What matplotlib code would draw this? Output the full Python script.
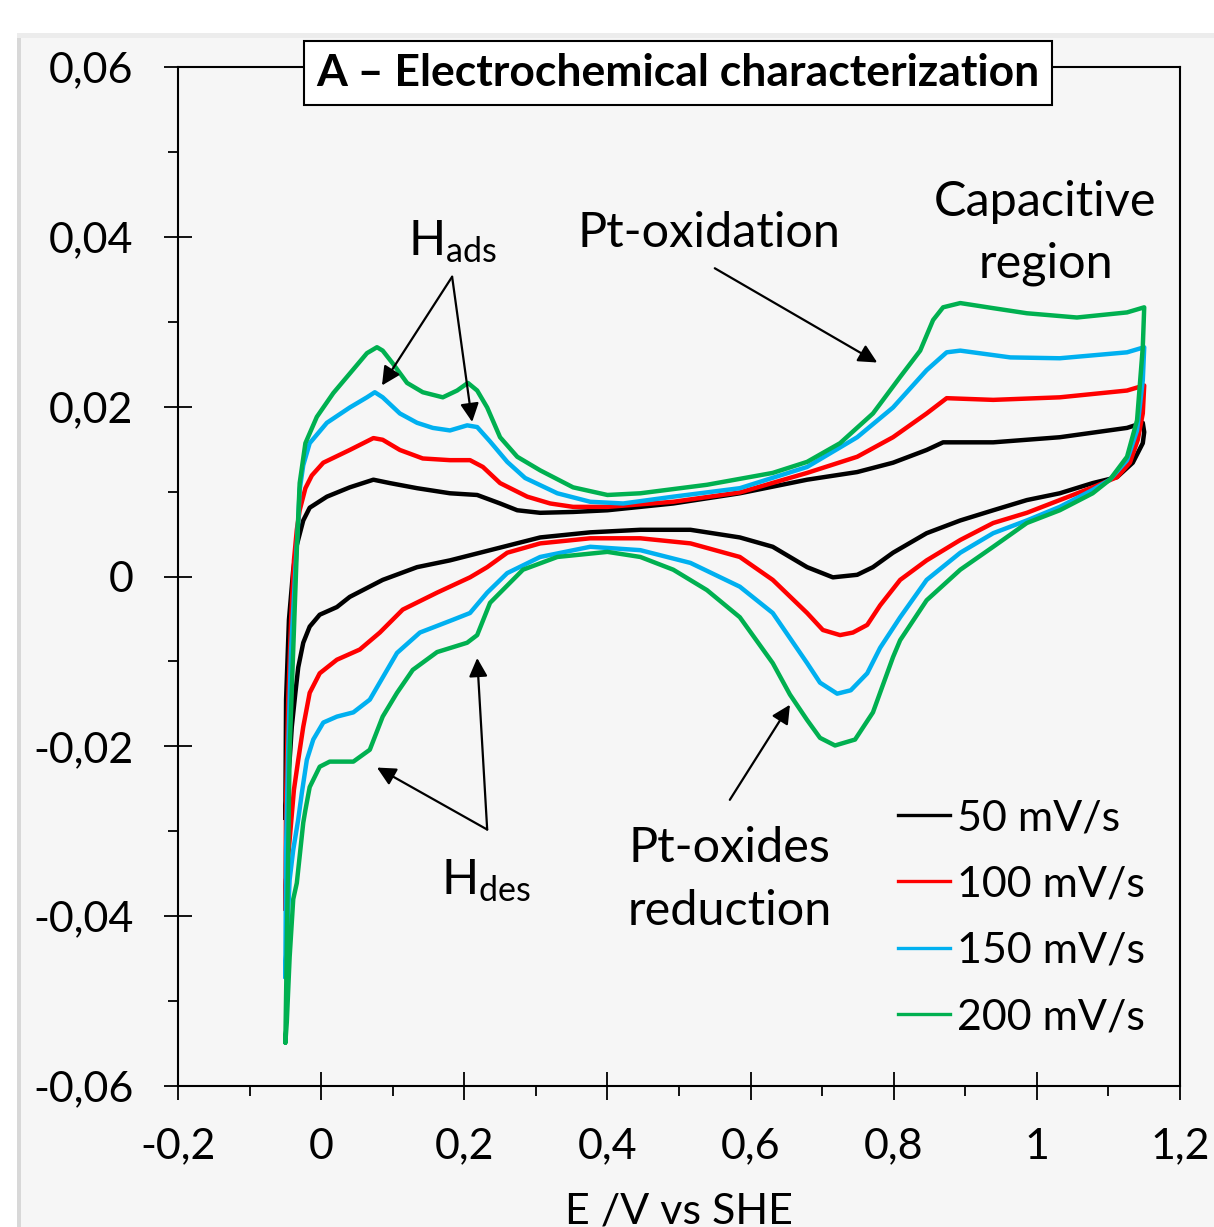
import matplotlib
matplotlib.use("Agg")
import matplotlib.pyplot as plt
from matplotlib.lines import Line2D
from matplotlib.patches import Rectangle

plt.rcParams['font.family'] = ['Lato', 'DejaVu Sans']
plt.rcParams['mathtext.fontset'] = 'custom'
plt.rcParams['mathtext.rm'] = 'Lato'
plt.rcParams['mathtext.it'] = 'Lato:italic'
plt.rcParams['mathtext.bf'] = 'Lato:bold'

# cyclic voltammograms, potential E (V vs SHE) and current I (A)
# each scan rate: forward (anodic) sweep then reverse (cathodic) sweep
e_50_fwd = [-0.050, -0.049, -0.045, -0.039, -0.034, -0.025, -0.016, 0.008, 0.040, 0.073,
            0.096, 0.134, 0.180, 0.218, 0.250, 0.274, 0.306, 0.352, 0.400, 0.492,
            0.585, 0.679, 0.749, 0.799, 0.846, 0.869, 0.939, 1.032, 1.126, 1.148]
i_50_fwd = [-0.0285, -0.0145, -0.0051, 0.0008, 0.0037, 0.0066, 0.0081, 0.0094, 0.0105, 0.0114,
            0.0110, 0.0104, 0.0098, 0.0096, 0.0086, 0.0078, 0.0075, 0.0076, 0.0078, 0.0086,
            0.0098, 0.0114, 0.0123, 0.0134, 0.0149, 0.0158, 0.0158, 0.0164, 0.0175, 0.0181]
e_50_rev = [1.150, 1.148, 1.134, 1.112, 1.078, 1.032, 0.986, 0.939, 0.893, 0.846,
            0.799, 0.771, 0.749, 0.715, 0.679, 0.631, 0.585, 0.516, 0.446, 0.376,
            0.306, 0.236, 0.180, 0.134, 0.086, 0.040, 0.022, -0.002, -0.016, -0.025,
            -0.032, -0.036, -0.041, -0.044, -0.048, -0.050]
i_50_rev = [0.0170, 0.0157, 0.0134, 0.0117, 0.0110, 0.0098, 0.0090, 0.0078, 0.0066, 0.0051,
            0.0028, 0.0011, 0.0002, -0.0001, 0.0011, 0.0035, 0.0046, 0.0055, 0.0055, 0.0052,
            0.0046, 0.0031, 0.0019, 0.0011, -0.0004, -0.0024, -0.0036, -0.0045, -0.0059, -0.0078,
            -0.0107, -0.0137, -0.0177, -0.0216, -0.0251, -0.0285]

e_100_fwd = [-0.050, -0.049, -0.046, -0.042, -0.038, -0.034, -0.030, -0.022, -0.013, 0.003,
             0.040, 0.073, 0.086, 0.110, 0.142, 0.180, 0.208, 0.226, 0.250, 0.288,
             0.320, 0.352, 0.400, 0.492, 0.585, 0.679, 0.749, 0.799, 0.846, 0.874,
             0.939, 1.032, 1.126, 1.150]
i_100_fwd = [-0.0392, -0.0263, -0.0145, -0.0051, 0.0019, 0.0055, 0.0078, 0.0104, 0.0119, 0.0134,
             0.0149, 0.0163, 0.0161, 0.0149, 0.0139, 0.0137, 0.0137, 0.0129, 0.0110, 0.0094,
             0.0086, 0.0082, 0.0082, 0.0088, 0.0099, 0.0122, 0.0141, 0.0164, 0.0192, 0.0210,
             0.0208, 0.0211, 0.0219, 0.0225]
e_100_rev = [1.148, 1.141, 1.130, 1.112, 1.078, 1.032, 0.986, 0.939, 0.893, 0.846,
             0.809, 0.781, 0.763, 0.743, 0.725, 0.701, 0.679, 0.631, 0.585, 0.516,
             0.446, 0.376, 0.306, 0.260, 0.232, 0.208, 0.162, 0.114, 0.082, 0.054,
             0.022, -0.002, -0.016, -0.025, -0.032, -0.038, -0.044, -0.049, -0.050]
i_100_rev = [0.0192, 0.0161, 0.0134, 0.0117, 0.0105, 0.0090, 0.0075, 0.0063, 0.0043, 0.0019,
             -0.0004, -0.0034, -0.0057, -0.0066, -0.0069, -0.0063, -0.0043, -0.0004, 0.0023, 0.0039,
             0.0045, 0.0045, 0.0039, 0.0028, 0.0011, -0.0001, -0.0019, -0.0039, -0.0066, -0.0086,
             -0.0098, -0.0114, -0.0137, -0.0177, -0.0216, -0.0251, -0.0310, -0.0357, -0.0392]

e_150_fwd = [-0.050, -0.049, -0.046, -0.042, -0.036, -0.032, -0.030, -0.025, -0.016, 0.008,
             0.040, 0.064, 0.075, 0.086, 0.110, 0.134, 0.156, 0.180, 0.204, 0.218,
             0.236, 0.260, 0.285, 0.330, 0.376, 0.422, 0.492, 0.585, 0.679, 0.749,
             0.799, 0.846, 0.874, 0.893, 0.963, 1.032, 1.126, 1.150]
i_150_fwd = [-0.0472, -0.0322, -0.0204, -0.0086, 0.0008, 0.0066, 0.0102, 0.0131, 0.0157, 0.0181,
             0.0199, 0.0211, 0.0217, 0.0211, 0.0192, 0.0181, 0.0175, 0.0172, 0.0178, 0.0176,
             0.0159, 0.0135, 0.0116, 0.0098, 0.0088, 0.0086, 0.0094, 0.0104, 0.0129, 0.0164,
             0.0199, 0.0243, 0.0264, 0.0266, 0.0258, 0.0257, 0.0264, 0.0270]
e_150_rev = [1.148, 1.140, 1.126, 1.102, 1.078, 1.032, 0.986, 0.939, 0.893, 0.846,
             0.809, 0.781, 0.763, 0.740, 0.721, 0.697, 0.679, 0.631, 0.585, 0.516,
             0.446, 0.376, 0.306, 0.260, 0.232, 0.208, 0.184, 0.138, 0.106, 0.068,
             0.045, 0.022, 0.003, -0.011, -0.020, -0.027, -0.032, -0.039, -0.044, -0.048,
             -0.050]
i_150_rev = [0.0231, 0.0172, 0.0137, 0.0114, 0.0102, 0.0082, 0.0066, 0.0051, 0.0028, -0.0004,
             -0.0048, -0.0084, -0.0114, -0.0134, -0.0138, -0.0125, -0.0102, -0.0043, -0.0012, 0.0016,
             0.0031, 0.0035, 0.0023, 0.0004, -0.0019, -0.0043, -0.0051, -0.0066, -0.0090, -0.0145,
             -0.0160, -0.0165, -0.0172, -0.0192, -0.0216, -0.0255, -0.0286, -0.0322, -0.0357, -0.0428,
             -0.0472]

e_200_fwd = [-0.050, -0.048, -0.046, -0.044, -0.039, -0.034, -0.030, -0.022, -0.006, 0.017,
             0.040, 0.064, 0.078, 0.086, 0.100, 0.120, 0.142, 0.170, 0.190, 0.205,
             0.218, 0.232, 0.250, 0.274, 0.306, 0.352, 0.400, 0.446, 0.539, 0.631,
             0.679, 0.725, 0.771, 0.809, 0.837, 0.855, 0.869, 0.893, 0.939, 0.986,
             1.056, 1.126, 1.150]
i_200_fwd = [-0.0549, -0.0439, -0.0322, -0.0204, -0.0086, 0.0031, 0.0110, 0.0157, 0.0188, 0.0216,
             0.0239, 0.0263, 0.0270, 0.0266, 0.0251, 0.0228, 0.0217, 0.0211, 0.0219, 0.0228,
             0.0219, 0.0199, 0.0164, 0.0141, 0.0125, 0.0105, 0.0096, 0.0098, 0.0108, 0.0122,
             0.0135, 0.0157, 0.0192, 0.0235, 0.0266, 0.0302, 0.0317, 0.0322, 0.0316, 0.0310,
             0.0305, 0.0311, 0.0317]
e_200_rev = [1.148, 1.140, 1.126, 1.102, 1.078, 1.032, 0.986, 0.939, 0.893, 0.846,
             0.809, 0.799, 0.771, 0.746, 0.718, 0.697, 0.679, 0.655, 0.631, 0.585,
             0.539, 0.492, 0.446, 0.400, 0.330, 0.282, 0.236, 0.218, 0.204, 0.162,
             0.128, 0.106, 0.086, 0.068, 0.045, 0.012, -0.002, -0.016, -0.022, -0.025,
             -0.034, -0.039, -0.044, -0.048, -0.050]
i_200_rev = [0.0270, 0.0184, 0.0141, 0.0114, 0.0098, 0.0078, 0.0063, 0.0035, 0.0008, -0.0028,
             -0.0075, -0.0095, -0.0160, -0.0192, -0.0199, -0.0190, -0.0169, -0.0139, -0.0102, -0.0048,
             -0.0016, 0.0008, 0.0023, 0.0029, 0.0023, 0.0008, -0.0031, -0.0069, -0.0078, -0.0089,
             -0.0110, -0.0137, -0.0165, -0.0204, -0.0218, -0.0218, -0.0224, -0.0248, -0.0275, -0.0290,
             -0.0361, -0.0380, -0.0448, -0.0525, -0.0549]

scan_labels = ['50 mV/s', '100 mV/s', '150 mV/s', '200 mV/s']
scan_colors = ['#000000', '#ff0000', '#00b0f0', '#00b050']

x_ticks = [-0.2, 0, 0.2, 0.4, 0.6, 0.8, 1, 1.2]
x_ticklabels = ['-0,2', '0', '0,2', '0,4', '0,6', '0,8', '1', '1,2']
y_ticks = [-0.06, -0.04, -0.02, 0, 0.02, 0.04, 0.06]
y_ticklabels = ['-0,06', '-0,04', '-0,02', '0', '0,02', '0,04', '0,06']

W, H = 1214, 1227
fig = plt.figure(figsize=(W / 100, H / 100), dpi=100, facecolor='white')

# grey chart-area panel with a soft edge
fig.patches.append(Rectangle((17 / W, 0), 1, 1 - 33 / H, transform=fig.transFigure,
                             facecolor='#f6f6f6', edgecolor='none', zorder=-5))
fig.patches.append(Rectangle((17 / W, 0), 4 / W, 1 - 33 / H, transform=fig.transFigure,
                             facecolor='#d8d8d8', edgecolor='none', zorder=-4))
fig.patches.append(Rectangle((17 / W, 1 - 38 / H), 1, 5 / H, transform=fig.transFigure,
                             facecolor='#ececec', edgecolor='none', zorder=-4))

ax = fig.add_axes([178 / W, 1 - 1086 / H, (1180 - 178) / W, (1086 - 67) / H])
ax.set_facecolor('#f6f6f6')

branches = [
    (e_50_fwd + e_50_rev, i_50_fwd + i_50_rev),
    (e_100_fwd + e_100_rev, i_100_fwd + i_100_rev),
    (e_150_fwd + e_150_rev, i_150_fwd + i_150_rev),
    (e_200_fwd + e_200_rev, i_200_fwd + i_200_rev),
]
for (e, i), c in zip(branches, scan_colors):
    ax.plot(e, i, color=c, lw=3.2, solid_joinstyle='round', solid_capstyle='round', zorder=3)

ax.set_xlim(-0.2, 1.2)
ax.set_ylim(-0.06, 0.06)
ax.set_xticks(x_ticks)
ax.set_xticklabels(x_ticklabels)
ax.set_yticks(y_ticks)
ax.set_yticklabels(y_ticklabels)
ax.set_xticks([-0.1, 0.1, 0.3, 0.5, 0.7, 0.9, 1.1], minor=True)
ax.set_yticks([-0.05, -0.03, -0.01, 0.01, 0.03, 0.05], minor=True)
ax.tick_params(which='major', direction='inout', length=20, width=1.3,
               labelsize=31, color='black')
ax.tick_params(axis='y', which='major', pad=22)
ax.tick_params(axis='x', which='major', pad=20)
ax.tick_params(which='minor', direction='out', length=7.5, width=1.3)
for s in ax.spines.values():
    s.set_linewidth(1.5)

fig.text(679 / W, 1 - 1224 / H, 'E /V vs SHE', ha='center', va='baseline', fontsize=31)

ax.text(0.499, 0.994, 'A – Electrochemical characterization', transform=ax.transAxes,
        ha='center', va='center', fontsize=32, fontweight='bold', zorder=10,
        bbox=dict(boxstyle='square,pad=0.27', facecolor='white', edgecolor='black', lw=1.5))

arrow_kw = dict(arrowstyle='-|>', color='black', lw=1.6, mutation_scale=28, shrinkA=0, shrinkB=0)
ax.annotate('', xy=(0.085, 0.0225), xytext=(0.183, 0.0353), arrowprops=arrow_kw)
ax.annotate('', xy=(0.211, 0.0182), xytext=(0.183, 0.0353), arrowprops=arrow_kw)
ax.annotate('', xy=(0.777, 0.0252), xytext=(0.550, 0.0363), arrowprops=arrow_kw)
ax.annotate('', xy=(0.078, -0.0225), xytext=(0.232, -0.0298), arrowprops=arrow_kw)
ax.annotate('', xy=(0.218, -0.0096), xytext=(0.232, -0.0298), arrowprops=arrow_kw)
ax.annotate('', xy=(0.655, -0.0151), xytext=(0.571, -0.0263), arrowprops=arrow_kw)

ax.text(0.183, 0.0378, r'H$_{\mathrm{ads}}$', ha='center', va='baseline', fontsize=35)
ax.text(0.230, -0.0375, r'H$_{\mathrm{des}}$', ha='center', va='baseline', fontsize=35)
ax.text(0.542, 0.0388, 'Pt-oxidation', ha='center', va='baseline', fontsize=35)
ax.text(1.012, 0.0425, 'Capacitive', ha='center', va='baseline', fontsize=35)
ax.text(1.012, 0.0352, 'region', ha='center', va='baseline', fontsize=35)
ax.text(0.571, -0.0336, 'Pt-oxides', ha='center', va='baseline', fontsize=35)
ax.text(0.571, -0.0410, 'reduction', ha='center', va='baseline', fontsize=35)

handles = [Line2D([], [], color=c, lw=2.4) for c in scan_colors]
ax.legend(handles, scan_labels, loc='upper left', bbox_to_anchor=(0.7186, 0.2816),
          frameon=False, fontsize=31, handlelength=1.2, handletextpad=0.16,
          labelspacing=0.66, borderpad=0, borderaxespad=0)

fig.savefig('out.png', dpi=100, facecolor=fig.get_facecolor())
